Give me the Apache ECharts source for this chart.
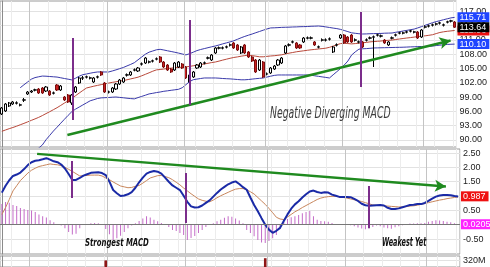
<!DOCTYPE html>
<html><head><meta charset="utf-8">
<script src="https://cdn.jsdelivr.net/npm/echarts@6/dist/echarts.min.js"></script>
<style>html,body{margin:0;padding:0;background:#fff;}#chart{width:490px;height:267px;}</style>
</head><body><div id="chart"></div>
<script>
const opens = [
95.45,96.08,97.13,97.55,97.70,97.30,98.35,99.64,100.06,100.45,
100.69,100.90,100.27,100.27,99.80,101.53,100.48,99.01,99.43,97.76,
100.06,101.95,102.96,103.17,102.96,102.16,103.17,104.26,101.95,100.02,
100.06,100.69,101.74,102.16,103.60,103.63,104.64,104.47,105.90,106.14,
106.32,106.53,106.95,107.40,106.35,105.72,104.88,104.67,105.30,105.93,
105.30,102.16,103.21,105.09,105.30,106.10,107.15,106.77,108.24,109.25,
109.25,109.46,109.88,110.34,109.92,108.24,109.92,108.45,107.40,106.77,
104.67,106.35,103.80,104.05,104.88,105.72,106.14,108.24,109.88,110.51,
110.34,109.92,110.55,111.34,111.34,110.55,109.46,110.92,110.92,111.13,
108.45,109.88,111.38,112.01,111.59,112.01,110.92,110.51,110.55,110.92,
111.34,111.55,111.97,111.76,110.96,109.92,111.34,111.97,112.39,112.39,
112.60,112.81,112.60,112.64,111.59,113.65,113.86,114.07,114.28,114.49,
114.07,114.70,114.91,114.74];
const closes = [
96.71,97.55,97.76,97.97,97.80,97.38,98.42,100.06,100.27,100.52,
99.85,99.85,101.11,99.43,99.88,100.48,101.32,98.39,97.97,99.43,
101.11,103.00,103.04,103.25,103.04,103.00,103.25,103.63,100.06,100.10,
100.90,101.74,102.58,103.00,103.67,104.26,104.71,105.09,105.97,107.19,
106.40,106.60,107.02,106.35,105.30,104.67,104.26,106.14,106.35,105.09,
103.00,103.63,104.26,105.72,106.14,106.18,107.23,107.82,109.29,109.33,
109.33,109.54,109.96,109.29,108.87,109.50,108.24,107.40,106.56,104.26,
106.77,103.21,103.88,105.09,105.51,106.77,107.19,109.71,109.96,110.59,
109.29,109.29,111.38,111.42,111.42,109.92,109.54,111.00,111.00,111.21,
109.50,109.96,112.01,110.34,110.55,110.55,111.00,110.59,109.50,111.00,
111.42,111.63,112.05,111.84,110.34,110.55,111.42,112.05,112.47,112.47,
112.68,112.89,112.68,111.38,113.06,113.73,113.94,114.15,114.36,114.57,
114.15,114.78,114.99,113.64];
const lows = [
95.24,95.87,96.92,97.34,97.45,97.05,97.97,99.43,99.85,100.20,
99.64,99.64,100.06,99.22,99.55,100.27,100.27,98.18,97.76,97.34,
99.85,101.74,102.58,102.90,102.70,101.95,102.90,103.42,99.85,99.75,
99.85,100.48,101.53,101.95,103.30,103.42,104.40,104.26,105.60,105.93,
106.05,106.25,106.70,106.14,105.09,104.47,104.05,104.47,105.09,104.88,
102.79,101.53,103.00,104.88,105.09,105.85,106.90,106.56,108.03,109.00,
109.00,109.20,109.60,109.08,108.66,108.03,108.03,107.19,106.35,104.05,
104.47,103.00,103.55,103.84,104.67,105.51,105.93,108.03,109.60,110.25,
109.08,109.08,110.34,111.10,111.10,109.71,109.20,110.65,110.65,110.85,
108.24,109.60,111.17,110.13,110.34,110.34,110.65,110.25,109.29,110.65,
111.10,105.30,111.70,111.50,110.13,109.71,111.10,111.70,112.15,112.15,
112.35,112.55,112.35,111.17,111.38,113.40,113.60,113.80,114.00,114.20,
113.80,114.45,114.65,113.48];
const highs = [
96.92,97.76,97.97,98.18,98.10,97.65,98.81,100.27,100.48,100.75,
100.90,101.11,101.32,100.48,100.15,101.74,101.53,99.22,99.64,99.64,
101.32,103.21,103.42,103.50,103.30,103.21,103.50,104.47,102.16,100.35,
101.11,101.95,102.79,103.21,103.95,104.47,105.00,105.30,106.25,107.40,
106.65,106.85,107.30,107.61,106.56,105.93,105.09,106.35,106.56,106.14,
105.51,103.84,104.47,105.93,106.35,106.45,107.50,108.03,109.50,109.60,
109.60,109.80,110.25,110.55,110.13,109.71,110.13,108.66,107.61,106.98,
106.98,106.56,104.15,105.30,105.72,106.98,107.40,109.92,110.25,110.85,
110.55,110.13,111.59,111.70,111.70,110.75,109.80,111.30,111.30,111.50,
109.71,110.25,112.22,112.22,111.80,112.22,111.30,110.85,110.75,111.30,
111.70,111.90,112.30,112.10,111.17,110.75,111.70,112.30,112.70,112.70,
112.90,113.10,112.90,112.85,113.27,114.00,114.20,114.40,114.60,114.80,
114.40,115.00,115.20,114.95];
const bbUpper = [
null,null,null,null,null,100.96,101.57,102.16,102.75,103.08,
103.25,103.40,103.37,103.31,103.25,103.19,103.04,102.89,102.75,102.60,
102.94,103.37,103.69,103.84,104.00,104.15,104.26,104.26,104.26,104.26,
104.47,104.70,104.95,105.20,105.53,105.85,106.21,106.81,107.40,107.99,
108.41,108.66,108.91,109.01,108.87,108.70,108.55,108.39,108.22,108.03,
107.84,108.09,108.41,108.74,108.97,109.16,109.35,109.54,109.71,109.92,
110.15,110.36,110.57,110.80,111.11,111.43,111.72,111.97,112.22,112.49,
112.75,113.02,113.27,113.49,113.52,113.56,113.61,113.63,113.65,113.69,
113.71,113.75,113.77,113.79,113.84,113.86,113.90,113.82,113.71,113.59,
113.46,113.35,113.19,112.96,112.72,112.47,112.37,112.28,112.22,112.24,
112.28,112.30,112.32,112.34,112.39,112.41,112.43,112.58,112.70,112.85,
112.98,113.12,113.25,113.50,113.77,114.05,114.32,114.59,114.82,115.01,
115.22,115.41,115.60,115.71];
const bbMiddle = [
91.82,92.10,92.37,92.62,92.89,93.19,93.48,93.79,94.11,94.42,
94.74,95.12,95.53,95.93,96.35,96.77,97.25,97.74,98.22,98.72,
99.27,99.83,100.38,100.90,101.09,101.28,101.45,101.61,101.76,101.93,
102.08,102.20,102.35,102.47,102.62,102.81,102.98,103.17,103.46,103.77,
104.09,104.42,104.70,104.78,104.88,104.99,105.07,105.14,105.20,105.26,
105.32,105.43,105.56,105.68,105.81,105.93,106.08,106.23,106.35,106.54,
106.75,106.94,107.13,107.30,107.42,107.57,107.69,107.80,107.69,107.57,
107.44,107.44,107.53,107.61,107.67,107.76,107.86,108.03,108.20,108.34,
108.49,108.60,108.70,108.81,108.91,108.99,109.08,109.16,109.25,109.43,
109.68,109.96,110.21,110.29,110.21,110.15,110.21,110.29,110.38,110.46,
110.57,110.63,110.69,110.75,110.84,110.90,110.96,111.07,111.17,111.28,
111.38,111.47,111.57,111.68,111.76,111.84,111.95,112.07,112.31,112.54,
112.68,112.79,112.87,112.96];
const bbLower = [
null,null,null,null,null,85.50,86.00,86.50,87.00,87.60,
88.30,88.95,90.04,90.96,91.87,92.68,93.52,94.34,95.16,95.93,
96.46,96.90,97.34,97.78,98.22,98.45,98.70,98.83,98.87,98.91,
98.97,99.01,98.93,98.85,98.76,98.68,98.62,98.89,99.14,99.39,
99.66,99.79,99.94,100.06,100.21,100.31,100.42,100.52,100.63,100.96,
101.59,102.24,102.64,102.77,102.89,103.00,103.00,103.00,103.00,102.96,
102.89,102.85,102.81,102.75,102.68,102.62,102.62,102.68,102.77,102.85,
102.93,103.00,103.19,103.37,103.54,103.63,103.63,103.63,103.63,103.63,
103.63,103.63,103.63,103.63,103.58,103.46,103.35,103.23,103.12,103.00,
103.67,104.32,104.99,105.70,106.56,107.80,108.47,109.04,109.12,109.16,
109.22,109.29,109.31,109.33,109.35,109.37,109.39,109.41,109.43,109.45,
109.48,109.52,109.54,109.58,109.60,109.62,109.66,109.68,109.80,109.88,
109.96,110.03,110.07,110.10];
const volumeM = [
210,195,180,170,160,175,190,205,185,170,
200,215,190,230,180,220,200,250,270,285,
240,220,175,160,150,165,170,205,321,260,
230,210,195,185,170,160,175,180,165,190,
170,160,150,200,230,245,220,210,190,215,
280,290,240,210,195,180,170,185,200,175,
160,150,165,190,210,185,230,250,240,285,
270,328,260,230,210,195,185,200,175,165,
190,185,170,160,155,180,175,165,150,145,
200,185,170,190,180,200,175,165,210,190,
170,240,180,165,195,185,160,150,145,140,
135,140,150,185,175,150,140,135,130,125,
140,130,125,170];
const macdLine = [
1.12,1.36,1.55,1.70,1.75,1.82,1.94,2.08,2.18,2.23,
2.25,2.28,2.32,2.27,2.21,2.18,2.10,1.96,1.77,1.56,
1.56,1.63,1.71,1.76,1.81,1.82,1.83,1.80,1.73,1.50,
1.21,1.10,1.00,1.02,1.06,1.14,1.29,1.48,1.64,1.78,
1.84,1.87,1.85,1.78,1.64,1.50,1.37,1.29,1.21,1.01,
0.80,0.64,0.60,0.61,0.67,0.76,0.85,0.98,1.11,1.23,
1.32,1.41,1.47,1.51,1.42,1.31,1.22,0.95,0.69,0.47,
0.23,0.00,-0.17,-0.28,-0.21,-0.11,0.13,0.36,0.56,0.71,
0.82,0.95,1.06,1.16,1.19,1.14,1.11,1.13,1.12,1.05,
1.01,0.97,0.97,0.97,0.96,0.90,0.83,0.73,0.68,0.66,
0.67,0.68,0.69,0.67,0.59,0.55,0.55,0.57,0.61,0.65,
0.69,0.70,0.72,0.72,0.76,0.83,0.91,0.98,1.02,1.04,
1.04,1.03,1.00,0.987];
const signalLine = [
0.36,0.60,0.88,1.18,1.36,1.54,1.67,1.80,1.90,1.97,
2.03,2.06,2.09,2.12,2.10,2.09,2.06,2.00,1.93,1.86,
1.78,1.70,1.71,1.72,1.73,1.73,1.73,1.70,1.63,1.57,
1.49,1.42,1.35,1.32,1.29,1.30,1.34,1.37,1.45,1.54,
1.63,1.67,1.71,1.72,1.68,1.64,1.57,1.48,1.39,1.28,
1.18,1.08,0.99,0.90,0.85,0.82,0.80,0.86,0.94,1.01,
1.07,1.13,1.19,1.24,1.26,1.26,1.22,1.15,1.07,0.95,
0.83,0.71,0.57,0.42,0.26,0.20,0.18,0.27,0.36,0.45,
0.52,0.60,0.67,0.74,0.81,0.88,0.93,0.96,0.98,0.99,
0.99,0.97,0.95,0.93,0.90,0.87,0.84,0.81,0.77,0.73,
0.69,0.68,0.67,0.66,0.65,0.64,0.63,0.62,0.62,0.63,
0.65,0.66,0.68,0.71,0.74,0.77,0.80,0.83,0.86,0.88,
0.91,0.93,0.95,0.97];
const histogram = [
0.72,0.79,0.77,0.69,0.65,0.58,0.55,0.51,0.50,0.44,
0.36,0.30,0.25,0.16,0.09,0.02,-0.03,-0.12,-0.25,-0.34,
-0.31,-0.12,-0.01,0.03,0.05,0.06,0.05,0.03,-0.15,-0.33,
-0.53,-0.47,-0.38,-0.25,-0.12,-0.03,0.05,0.13,0.22,0.30,
0.25,0.17,0.12,0.06,0.00,-0.08,-0.18,-0.22,-0.29,-0.36,
-0.53,-0.46,-0.39,-0.29,-0.18,-0.08,0.00,0.05,0.12,0.17,
0.24,0.30,0.28,0.22,0.15,0.05,-0.18,-0.29,-0.40,-0.53,
-0.62,-0.64,-0.57,-0.47,-0.36,-0.15,0.10,0.20,0.26,0.30,
0.34,0.40,0.44,0.48,0.30,0.17,0.13,0.12,0.10,0.06,
0.03,0.02,0.01,0.00,-0.02,-0.05,-0.10,-0.13,-0.16,-0.12,
-0.08,-0.03,-0.05,-0.10,-0.12,-0.14,-0.09,-0.05,-0.02,0.02,
0.04,0.04,0.05,0.05,0.06,0.10,0.13,0.16,0.15,0.13,
0.10,0.09,0.05,0.0205];
const priceTicks = [90,93,96,99,102,105,108,111,114,117];
const macdTicks = [-0.5,0,0.5,1,1.5,2,2.5];
const volumeTicks = [320];
const monthEdges = [7.5,28.5,49.5,71.5,92.5,114.5];
const priceTrend = [[17.8,91.05],[121.9,110.86]];
const macdTrend = [[9.5,2.47],[119.7,1.33]];
const priceMarkers = [[19.2,111.38,94.19],[51.0,115.16,97.34],[97.6,116.83,101.11]];
const macdMarkers = [[18.9,2.22,0.93],[49.6,1.80,0.06],[99.0,1.35,-0.12]];
const notes = ['Negative Diverging MACD','Strongest MACD','Weakest Yet'];

const N = closes.length;
const days = closes.map((_, i) => 'Day ' + (i + 1));
const candles = closes.map((c, i) => [opens[i], c, lows[i], highs[i]]);
const last = a => a[a.length - 1];
const FONT = '"Liberation Sans", Arial, sans-serif';
const NARROW = '"Liberation Sans Narrow","DejaVu Sans Condensed","Liberation Sans",sans-serif';
const CLEAR = 'rgba(0,0,0,0)';

function boxLabel(text, bg, fg) {
  return {show:true, position:'end', distance:1, formatter:text, color:fg, backgroundColor:bg,
    padding:[1,3,0,2], fontSize:9, lineHeight:9, fontFamily:FONT, opacity:1};
}
function boxLine(value, text, bg, fg) {
  return {silent:true, symbol:['none','none'], animation:false,
    lineStyle:{color:CLEAR, width:1, type:'solid'}, label:boxLabel(text, bg, fg), data:[{yAxis:value}]};
}
function monthLines() {
  return {silent:true, symbol:['none','none'], animation:false, label:{show:false},
    lineStyle:{color:'#c4c4c4', width:1, type:'solid'}, data: monthEdges.map(x => ({xAxis:x}))};
}
function annotations(trend, markers) {
  const green = {color:'#1f8a1f', width:2.5, type:'solid'};
  const purple = {color:'#7b2d8b', width:2, type:'solid'};
  const d = [[{coord:trend[0], symbol:'none', lineStyle:green},
              {coord:trend[1], symbol:'arrow', symbolSize:[9,11], lineStyle:green}]];
  markers.forEach(m => d.push([{coord:[m[0],m[1]], symbol:'none', lineStyle:purple},
                              {coord:[m[0],m[2]], symbol:'none', lineStyle:purple}]));
  return {silent:true, symbol:['none','none'], animation:false, label:{show:false}, data:d};
}

const gridBase = {left:0, right:30, show:true, borderColor:'#9a9a9a', borderWidth:1, backgroundColor:'#fff'};
const catAxis = (g) => ({type:'category', gridIndex:g, data:days, boundaryGap:true,
  axisLine:{show:false}, axisTick:{show:false}, axisLabel:{show:false},
  splitLine:{show:true, interval:(i) => i % 5 === 3, lineStyle:{color:'#ececec', width:1}}});
const valAxis = (g) => ({type:'value', gridIndex:g, min:-0.5, max:N - 0.5, show:false});
const yBase = (g, min, max, ticks, fmt) => ({type:'value', gridIndex:g, position:'right', min, max,
  axisLine:{show:true, lineStyle:{color:'#8a8a8a'}},
  axisTick:{show:false, customValues:ticks},
  axisLabel:{customValues:ticks, formatter:fmt, fontSize:9, color:'#222', margin:3, fontFamily:FONT},
  splitLine:{show:true, lineStyle:{color:'#e2e2e2', width:1}}});

const option = {
  animation:false,
  backgroundColor:'#fff',
  grid:[
    Object.assign({top:1, height:146}, gridBase),
    Object.assign({top:149, height:105}, gridBase),
    Object.assign({top:256, height:12}, gridBase)
  ],
  xAxis:[catAxis(0), catAxis(1), catAxis(2), valAxis(0), valAxis(1), valAxis(2)],
  yAxis:[
    yBase(0, 88.53, 119.14, priceTicks, v => v.toFixed(2)),
    yBase(1, -1.02, 2.64, macdTicks, v => v.toFixed(2)),
    yBase(2, 300, 335, volumeTicks, v => v + 'M')
  ],
  series:[
    {type:'line', xAxisIndex:3, yAxisIndex:0, data:[], z:1, markLine:monthLines()},
    {type:'line', xAxisIndex:4, yAxisIndex:1, data:[], z:1, markLine:monthLines()},
    {type:'line', xAxisIndex:5, yAxisIndex:2, data:[], z:1, markLine:monthLines()},
    {type:'line', name:'Upper', xAxisIndex:0, yAxisIndex:0, data:bbUpper, symbol:'none', z:3,
      lineStyle:{color:'#3a3aaa', width:1}, markLine:boxLine(last(bbUpper), last(bbUpper).toFixed(2), '#1f45ff', '#fff')},
    {type:'line', name:'Lower', xAxisIndex:0, yAxisIndex:0, data:bbLower, symbol:'none', z:3,
      lineStyle:{color:'#3a3aaa', width:1}, markLine:boxLine(last(bbLower), last(bbLower).toFixed(2), '#1f45ff', '#fff')},
    {type:'line', name:'Middle', xAxisIndex:0, yAxisIndex:0, data:bbMiddle, symbol:'none', z:3,
      lineStyle:{color:'#b8483a', width:1}, markLine:boxLine(last(bbMiddle), last(bbMiddle).toFixed(2), '#ee1111', '#fff')},
    {type:'candlestick', name:'Price', xAxisIndex:0, yAxisIndex:0, data:candles, barWidth:'72%', z:4,
      itemStyle:{color:'#ffffff', color0:'#cc2020', borderColor:'#000000', borderColor0:'#7a0e0e', borderWidth:1},
      markLine:boxLine(last(closes), last(closes).toFixed(2), '#000000', '#ffffff')},
    {type:'line', xAxisIndex:3, yAxisIndex:0, data:[], z:6, markLine:annotations(priceTrend, priceMarkers)},
    {type:'bar', name:'Histogram', xAxisIndex:1, yAxisIndex:1, data:histogram, barWidth:1, z:2,
      itemStyle:{color:'#c46cc8'},
      markLine:{silent:true, symbol:['none','none'], animation:false, data:[
        {yAxis:0, lineStyle:{color:'#777', width:1, type:'solid'}, label:{show:false}},
        {yAxis:last(histogram), lineStyle:{color:CLEAR, width:1, type:'solid'}, label:boxLabel(String(last(histogram)), '#ff22ff', '#ffffff')}
      ]}},
    {type:'line', name:'Signal', xAxisIndex:1, yAxisIndex:1, data:signalLine, symbol:'none', z:3,
      lineStyle:{color:'#c8865c', width:1}},
    {type:'line', name:'MACD', xAxisIndex:1, yAxisIndex:1, data:macdLine, symbol:'none', z:4,
      lineStyle:{color:'#1a2aa6', width:2}, markLine:boxLine(last(macdLine), String(last(macdLine)), '#ee1111', '#fff')},
    {type:'line', xAxisIndex:4, yAxisIndex:1, data:[], z:6, markLine:annotations(macdTrend, macdMarkers)},
    {type:'bar', name:'Volume', xAxisIndex:2, yAxisIndex:2, barWidth:'70%', z:2,
      data: volumeM.map((v, i) => ({value:v, itemStyle:{color: closes[i] < opens[i] ? '#8e1616' : '#222'}}))}
  ],
  graphic:[
    {type:'text', x:270, y:106, scaleX:0.86, scaleY:1.3, z:100, style:{text:notes[0], font:'italic 12px ' + NARROW, fill:'#3c3c3c'}},
    {type:'text', x:85, y:238, scaleX:0.77, scaleY:1.1, z:100, style:{text:notes[1], font:'italic bold 10px ' + NARROW, fill:'#111'}},
    {type:'text', x:382, y:237, scaleX:0.72, scaleY:1.15, z:100, style:{text:notes[2], font:'italic bold 10px ' + NARROW, fill:'#111'}}
  ]
};
const chart = echarts.init(document.getElementById('chart'), null, {renderer:'canvas'});
chart.setOption(option);
</script></body></html>
